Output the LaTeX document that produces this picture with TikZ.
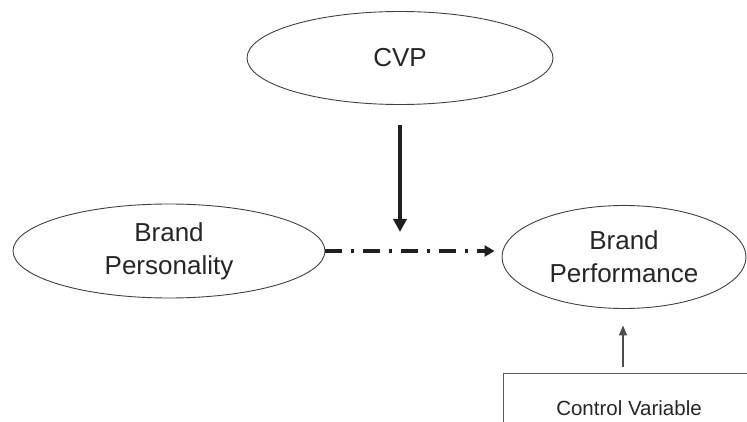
\documentclass[tikz,border=0pt]{standalone}
\usepackage{fontspec}
\setmainfont{Liberation Sans}
\usetikzlibrary{shapes.geometric,arrows.meta}
\begin{document}
\begin{tikzpicture}[x=1pt,y=-1pt,
        construct/.style={ellipse,draw=black!75,line width=0.9pt,inner sep=0pt,align=center,
            text=black!85,font=\fontsize{26}{33}\selectfont},
        control/.style={rectangle,draw=black!65,line width=0.9pt,inner sep=0pt,
            minimum width=252pt,minimum height=70pt,text=black!85,font=\fontsize{20.5}{24}\selectfont},
        effect/.style={draw=black!88,line width=4pt,-{Triangle[width=13pt,length=13pt]}},
        link/.style={draw=black!88,line width=3.6pt,dash pattern=on 17pt off 9pt on 3pt off 9pt,
            -{Triangle[width=11pt,length=10pt]}},
        cover/.style={draw=black!70,line width=1.2pt,-{Triangle[width=8pt,length=10pt]}}]
    \useasboundingbox (0,0) rectangle (747,422);
    % Constructs
    \node[construct,minimum width=306pt,minimum height=93pt] (cvp) at (400,58) {CVP};
    \node[construct,minimum width=312pt,minimum height=94pt] (pers) at (169,251) {Brand\\Personality};
    \node[construct,minimum width=244pt,minimum height=103pt] (perf) at (624,257) {Brand\\Performance};
    \node[control] (ctrl) at (629,408) {Control Variable};
    % Connectors
    \coordinate (mod) at (cvp.south |- pers.east);
    \coordinate (ptip) at ([xshift=-7pt]perf.west |- pers.east);
    \draw[link] (pers.east) -- (ptip);
    \draw[effect] ([yshift=-20.5pt]cvp.south) -- ([yshift=19pt]mod);
    \draw[cover] ([xshift=-6pt,yshift=6pt]ctrl.north) -- ([xshift=-1pt,yshift=-16.5pt]perf.south);
\end{tikzpicture}
\end{document}
